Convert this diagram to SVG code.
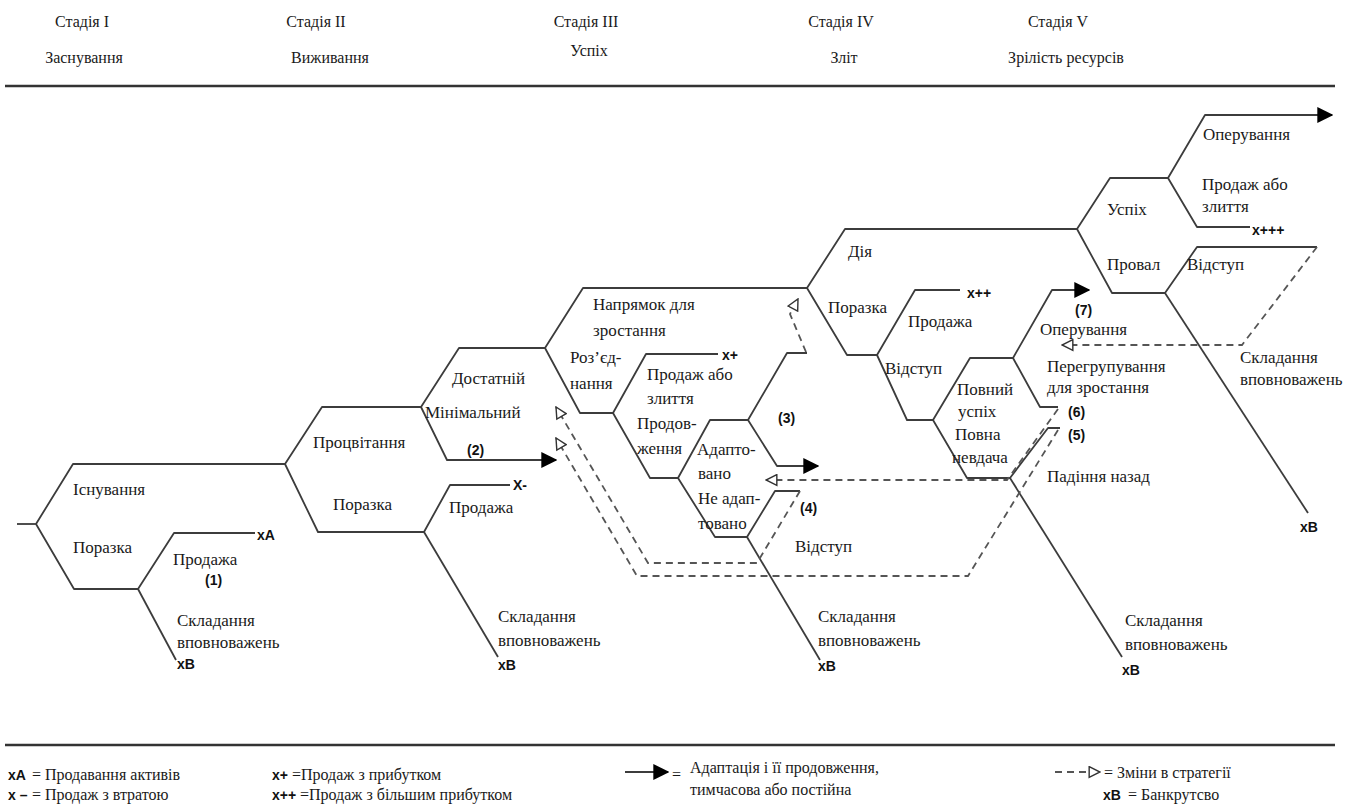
<svg xmlns="http://www.w3.org/2000/svg" width="1357" height="807" viewBox="0 0 1357 807">
  <defs>
    <style>
      .t { font-family: "Liberation Serif", "Times New Roman", serif; font-size: 17px; fill: #1a1a1a; }
      .h { font-family: "Liberation Serif", "Times New Roman", serif; font-size: 16px; fill: #1a1a1a; text-anchor: middle; }
      .b { font-family: "Liberation Sans", Arial, sans-serif; font-size: 14px; font-weight: bold; fill: #111; }
      .lg { font-family: "Liberation Serif", "Times New Roman", serif; font-size: 16px; fill: #1a1a1a; }
      .rule { stroke: #333; stroke-width: 2.5; fill: none; }
      .ln { stroke: #3c3c3c; stroke-width: 1.8; fill: none; stroke-linejoin: round; }
      .dash { stroke: #555; stroke-width: 1.8; fill: none; stroke-dasharray: 7 5; }
    </style>
    <marker id="solid" viewBox="0 0 12 12" refX="11" refY="6" markerWidth="16" markerHeight="16" markerUnits="userSpaceOnUse" orient="auto">
      <path d="M0,0 L12,6 L0,12 z" fill="#000"/>
    </marker>
    <marker id="open" viewBox="0 0 12 12" refX="11" refY="6" markerWidth="13" markerHeight="13" markerUnits="userSpaceOnUse" orient="auto">
      <path d="M1,1 L11,6 L1,11 z" fill="#fff" stroke="#333" stroke-width="1.3"/>
    </marker>
  </defs>

  <rect width="1357" height="807" fill="#fff"/>

  <!-- stage headings -->
  <g id="headings">
    <text class="h" x="82" y="27">Стадія I</text>
    <text class="h" x="84" y="63">Заснування</text>
    <text class="h" x="316" y="27">Стадія II</text>
    <text class="h" x="330" y="63">Виживання</text>
    <text class="h" x="586" y="27">Стадія III</text>
    <text class="h" x="589" y="56">Успіх</text>
    <text class="h" x="841" y="27">Стадія IV</text>
    <text class="h" x="844" y="63">Зліт</text>
    <text class="h" x="1058" y="27">Стадія V</text>
    <text class="h" x="1066" y="63">Зрілість ресурсів</text>
    <path class="rule" d="M5,86 H1335"/>
    <path class="rule" d="M5,745 H1335"/>
  </g>

  <!-- connectors: solid decision branches -->
  <g id="connectors">
    <!-- stage I -->
    <path class="ln" d="M17,524 H36"/>
    <path class="ln" d="M36,524 L73,464 H285"/>
    <path class="ln" d="M36,524 L74,589 H138"/>
    <path class="ln" d="M138,589 L174,533 H255"/>
    <path class="ln" d="M138,589 L176,660"/>
    <!-- stage II -->
    <path class="ln" d="M285,464 L322,407 H421"/>
    <path class="ln" d="M285,464 L318,532 H424"/>
    <path class="ln" d="M421,407 L459,348 H545"/>
    <path class="ln" d="M421,407 L447,460 H556" marker-end="url(#solid)"/>
    <path class="ln" d="M424,532 L450,485 H510"/>
    <path class="ln" d="M424,532 L498,657"/>
    <!-- stage III -->
    <path class="ln" d="M545,348 L583,288 H807"/>
    <path class="ln" d="M545,348 L580,413 H613"/>
    <path class="ln" d="M613,413 L646,354 H718"/>
    <path class="ln" d="M613,413 L650,478 H678"/>
    <path class="ln" d="M678,478 L710,420 H748"/>
    <path class="ln" d="M678,478 L715,537 H747"/>
    <path class="ln" d="M748,420 L787,353 H807"/>
    <path class="ln" d="M748,420 L777,466 H818" marker-end="url(#solid)"/>
    <path class="ln" d="M747,537 L775,491 H800"/>
    <path class="ln" d="M747,537 L820,660"/>
    <!-- stage IV -->
    <path class="ln" d="M807,288 L845,229 H1077"/>
    <path class="ln" d="M807,288 L847,355 H877"/>
    <path class="ln" d="M877,355 L915,290 H960"/>
    <path class="ln" d="M877,355 L907,420 H933"/>
    <path class="ln" d="M933,420 L970,358 H1013"/>
    <path class="ln" d="M933,420 L967,478 H1010"/>
    <path class="ln" d="M1013,358 L1052,290 H1089" marker-end="url(#solid)"/>
    <path class="ln" d="M1013,358 L1040,407 H1058"/>
    <path class="ln" d="M1010,478 L1048,428 H1060"/>
    <path class="ln" d="M1010,478 L1122,657"/>
    <!-- stage V -->
    <path class="ln" d="M1077,229 L1110,178 H1168"/>
    <path class="ln" d="M1077,229 L1112,293 H1165"/>
    <path class="ln" d="M1168,178 L1205,115 H1332" marker-end="url(#solid)"/>
    <path class="ln" d="M1168,178 L1197,227 H1250"/>
    <path class="ln" d="M1165,293 L1197,247 H1317"/>
    <path class="ln" d="M1165,293 L1308,513"/>

    <!-- strategy changes (dashed, open heads) -->
    <path class="dash" d="M806,352 L790,314 L798,299" marker-end="url(#open)"/>
    <path class="dash" d="M800,491 L757,563 H648 L556,407" marker-end="url(#open)"/>
    <path class="dash" d="M1058,430 L968,576 H637 L556,438" marker-end="url(#open)"/>
    <path class="dash" d="M1058,409 L1007,480 H766" marker-end="url(#open)"/>
    <path class="dash" d="M1317,247 L1242,345 H1062" marker-end="url(#open)"/>
  </g>

  <!-- stage I labels -->
  <g id="stage1">
    <text class="t" x="73" y="495">Існування</text>
    <text class="t" x="73" y="553">Поразка</text>
    <text class="t" x="173" y="565">Продажа</text>
    <text class="b" x="205" y="585">(1)</text>
    <text class="b" x="257" y="540">xA</text>
    <text class="t" x="177" y="626">Складання</text>
    <text class="t" x="177" y="648">вповноважень</text>
    <text class="b" x="177" y="669">xB</text>
  </g>

  <!-- stage II labels -->
  <g id="stage2">
    <text class="t" x="313" y="448">Процвітання</text>
    <text class="t" x="333" y="510">Поразка</text>
    <text class="t" x="449" y="513">Продажа</text>
    <text class="b" x="513" y="490">X-</text>
    <text class="t" x="452" y="384">Достатній</text>
    <text class="t" x="425" y="418">Мінімальний</text>
    <text class="b" x="467" y="455">(2)</text>
    <text class="t" x="498" y="622">Складання</text>
    <text class="t" x="498" y="646">вповноважень</text>
    <text class="b" x="498" y="670">xB</text>
  </g>

  <!-- stage III labels -->
  <g id="stage3">
    <text class="t" x="593" y="310">Напрямок для</text>
    <text class="t" x="593" y="336">зростання</text>
    <text class="t" x="570" y="363">Роз’єд-</text>
    <text class="t" x="570" y="389">нання</text>
    <text class="b" x="722" y="360">x+</text>
    <text class="t" x="647" y="380">Продаж або</text>
    <text class="t" x="647" y="404">злиття</text>
    <text class="t" x="637" y="429">Продов-</text>
    <text class="t" x="637" y="454">ження</text>
    <text class="t" x="697" y="455">Адапто-</text>
    <text class="t" x="698" y="479">вано</text>
    <text class="t" x="698" y="504">Не адап-</text>
    <text class="t" x="698" y="529">товано</text>
    <text class="b" x="778" y="423">(3)</text>
    <text class="b" x="800" y="513">(4)</text>
    <text class="t" x="795" y="552">Відступ</text>
    <text class="t" x="818" y="622">Складання</text>
    <text class="t" x="818" y="646">вповноважень</text>
    <text class="b" x="818" y="671">xB</text>
  </g>

  <!-- stage IV labels -->
  <g id="stage4">
    <text class="t" x="848" y="257">Дія</text>
    <text class="t" x="828" y="313">Поразка</text>
    <text class="b" x="967" y="298">x++</text>
    <text class="t" x="908" y="327">Продажа</text>
    <text class="t" x="885" y="374">Відступ</text>
    <text class="t" x="957" y="395">Повний</text>
    <text class="t" x="958" y="417">успіх</text>
    <text class="t" x="955" y="440">Повна</text>
    <text class="t" x="952" y="463">невдача</text>
    <text class="b" x="1075" y="315">(7)</text>
    <text class="t" x="1040" y="335">Оперування</text>
    <text class="t" x="1047" y="372">Перегрупування</text>
    <text class="t" x="1047" y="393">для зростання</text>
    <text class="b" x="1068" y="417">(6)</text>
    <text class="b" x="1068" y="440">(5)</text>
    <text class="t" x="1047" y="482">Падіння назад</text>
    <text class="t" x="1125" y="626">Складання</text>
    <text class="t" x="1125" y="650">вповноважень</text>
    <text class="b" x="1122" y="675">xB</text>
  </g>

  <!-- stage V labels -->
  <g id="stage5">
    <text class="t" x="1203" y="140">Оперування</text>
    <text class="t" x="1202" y="190">Продаж або</text>
    <text class="t" x="1202" y="212">злиття</text>
    <text class="b" x="1252" y="235">x+++</text>
    <text class="t" x="1107" y="215">Успіх</text>
    <text class="t" x="1107" y="270">Провал</text>
    <text class="t" x="1187" y="270">Відступ</text>
    <text class="t" x="1240" y="363">Складання</text>
    <text class="t" x="1240" y="385">вповноважень</text>
    <text class="b" x="1300" y="532">xB</text>
  </g>

  <!-- legend -->
  <g id="legend">
    <text class="b" x="8" y="780">xA</text>
    <text class="lg" x="32" y="780">= Продавання активів</text>
    <text class="b" x="8" y="800">x –</text>
    <text class="lg" x="32" y="800">= Продаж з втратою</text>
    <text class="b" x="272" y="780">x+</text>
    <text class="lg" x="292" y="780">=Продаж з прибутком</text>
    <text class="b" x="272" y="800">x++</text>
    <text class="lg" x="300" y="800">=Продаж з більшим прибутком</text>
    <path class="ln" d="M625,772 H668" stroke="#000" marker-end="url(#solid)"/>
    <text class="lg" x="672" y="780">=</text>
    <text class="lg" x="690" y="773">Адаптація і її продовження,</text>
    <text class="lg" x="690" y="795">тимчасова або постійна</text>
    <path class="dash" d="M1055,772 H1100" marker-end="url(#open)"/>
    <text class="lg" x="1104" y="778">= Зміни в стратегії</text>
    <text class="b" x="1103" y="800">xB</text>
    <text class="lg" x="1128" y="800">= Банкрутсво</text>
  </g>
</svg>
